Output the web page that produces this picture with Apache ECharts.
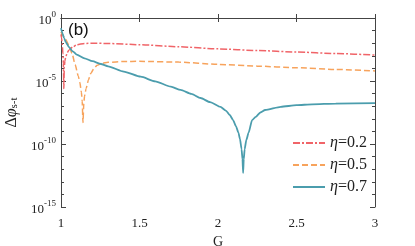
<!DOCTYPE html>
<html><head><meta charset="utf-8">
<script src="https://cdn.jsdelivr.net/npm/echarts@6/dist/echarts.min.js"></script>
<style>html,body{margin:0;padding:0;background:#fff;overflow:hidden}#c{width:415px;height:246px}</style>
</head><body><div id="c"></div>
<script>
// x values (G) and log10(Δφ_s-t) values
const g02 = [1.0,1.004,1.008,1.012,1.015,1.018,1.021,1.025,1.03,1.04,1.05,1.075,1.1,1.15,1.2,1.3,1.5,1.75,2.0,2.25,2.5,2.75,3.0];
const e02 = [-1.3,-1.6,-2.1,-2.8,-3.6,-5.6,-3.9,-3.4,-3.1,-2.75,-2.55,-2.3,-2.12,-2.02,-2.0,-2.02,-2.12,-2.28,-2.45,-2.58,-2.7,-2.82,-2.94];
const g05 = [1.0,1.025,1.05,1.07,1.09,1.11,1.12,1.13,1.135,1.14,1.145,1.15,1.16,1.175,1.19,1.21,1.23,1.26,1.3,1.4,1.5,1.75,2.0,2.25,2.5,2.75,3.0];
const e05 = [-1.1,-1.6,-2.15,-2.8,-3.7,-4.6,-5.1,-5.9,-6.6,-8.3,-6.8,-6.2,-5.6,-4.9,-4.4,-4.0,-3.75,-3.6,-3.52,-3.45,-3.44,-3.5,-3.68,-3.82,-3.95,-4.08,-4.2];
const g07 = [1.0,1.01,1.02,1.03,1.05,1.075,1.1,1.15,1.2,1.254,1.3,1.4,1.508,1.6,1.7,1.762,1.83,1.889,1.95,2.016,2.05,2.075,2.096,2.115,2.13,2.14,2.15,2.156,2.16,2.164,2.17,2.18,2.195,2.217,2.24,2.27,2.3,2.4,2.5,2.6,2.75,3.0];
const e07 = [-0.8,-1.25,-1.6,-1.9,-2.3,-2.65,-2.9,-3.2,-3.43,-3.65,-3.84,-4.25,-4.66,-5.03,-5.45,-5.71,-6.02,-6.35,-6.68,-7.06,-7.35,-7.7,-8.1,-8.6,-9.1,-9.6,-10.4,-11.2,-12.3,-11.2,-10.4,-9.7,-9.1,-8.1,-7.85,-7.5,-7.3,-7.05,-6.92,-6.85,-6.79,-6.75];
const seriesNames = ['η=0.2','η=0.5','η=0.7'];
const xTicks = [1,1.5,2,2.5,3];
const yMajor = [0,-5,-10,-15];

const pairs = (g,e)=>g.map((x,i)=>[x,e[i]]);
const serif = 'Liberation Serif';
const axisCol = '#444';
const chart = echarts.init(document.getElementById('c'), null, {renderer:'canvas'});
chart.setOption({
  animation:false,
  grid:{left:61,right:40,top:18,bottom:39,containLabel:false,outerBoundsMode:'none'},
  xAxis:[{
    type:'value',min:1,max:3,interval:0.5,
    name:'G',nameLocation:'middle',nameGap:26,
    nameTextStyle:{fontFamily:serif,fontSize:14,color:'#222'},
    axisLine:{lineStyle:{color:axisCol,width:1}},
    axisTick:{inside:true,length:4,lineStyle:{color:axisCol}},
    axisLabel:{fontFamily:serif,fontSize:13,color:'#222',margin:10,formatter:v=>xTicks.includes(v)?String(v):''},
    splitLine:{show:false}
  },{
    type:'value',min:1,max:3,interval:0.5,position:'top',
    axisLine:{show:true,lineStyle:{color:axisCol,width:1}},
    axisTick:{inside:true,length:4,lineStyle:{color:axisCol}},
    axisLabel:{show:false},splitLine:{show:false}
  }],
  yAxis:[{
    type:'value',min:-15,max:0,interval:5,
    name:'{d|Δ}{p|φ}{s|s-t}',nameLocation:'middle',nameGap:30,nameRotate:90,
    nameTextStyle:{rich:{
      d:{fontFamily:serif,fontSize:16,color:'#222'},
      p:{fontFamily:serif,fontSize:16,fontStyle:'italic',color:'#222'},
      s:{fontFamily:serif,fontSize:11,color:'#222',verticalAlign:'bottom',padding:[6,0,0,0]}
    }},
    axisLine:{show:true,lineStyle:{color:axisCol,width:1}},
    axisTick:{show:true,inside:true,length:5,lineStyle:{color:axisCol}},
    minorTick:{show:true,splitNumber:5,length:3,lineStyle:{color:axisCol}},
    axisLabel:{margin:5,fontFamily:serif,fontSize:13,color:'#222',
      formatter:v=>yMajor.includes(v)?'{b|10}{s|'+String(v)+'}':'',
      rich:{ b:{fontFamily:serif,fontSize:13,color:'#222',padding:[6,0,0,0]},
             s:{fontFamily:serif,fontSize:9,color:'#222',padding:[0,0,6,0]} }},
    splitLine:{show:false}
  },{
    type:'value',min:-15,max:0,interval:5,position:'right',
    axisLine:{show:true,lineStyle:{color:axisCol,width:1}},
    axisTick:{show:true,inside:true,length:5,lineStyle:{color:axisCol}},
    minorTick:{show:true,splitNumber:5,length:3,lineStyle:{color:axisCol}},
    axisLabel:{show:false},splitLine:{show:false}
  }],
  legend:{
    orient:'vertical',left:287,top:130,itemWidth:32,itemHeight:12,itemGap:6,
    data:seriesNames,
    itemStyle:{opacity:0},
    formatter:name=>'{i|η}{t|'+name.slice(1)+'}',
    textStyle:{rich:{
      i:{fontFamily:serif,fontSize:16,fontStyle:'italic',color:'#222'},
      t:{fontFamily:serif,fontSize:16,color:'#222'}
    }}
  },
  graphic:[{type:'text',left:68,top:22,style:{text:'(b)',font:'17px "Liberation Sans"',fill:'#111'}}],
  series:[
    {name:seriesNames[0],type:'line',data:pairs(g02,e02),symbol:'none',showSymbol:false,smooth:0.2,smoothMonotone:'x',
     lineStyle:{color:'#f06468',width:1.5,type:[7,2,2,2]},itemStyle:{color:'#f06468'}},
    {name:seriesNames[1],type:'line',data:pairs(g05,e05),symbol:'none',showSymbol:false,smooth:0.2,smoothMonotone:'x',
     lineStyle:{color:'#f7a35c',width:1.5,type:[6,3]},itemStyle:{color:'#f7a35c'}},
    {name:seriesNames[2],type:'line',data:pairs(g07,e07),symbol:'none',showSymbol:false,smooth:0.2,smoothMonotone:'x',
     lineStyle:{color:'#4b9dad',width:1.8,type:'solid'},itemStyle:{color:'#4b9dad'}}
  ]
});
</script></body></html>
